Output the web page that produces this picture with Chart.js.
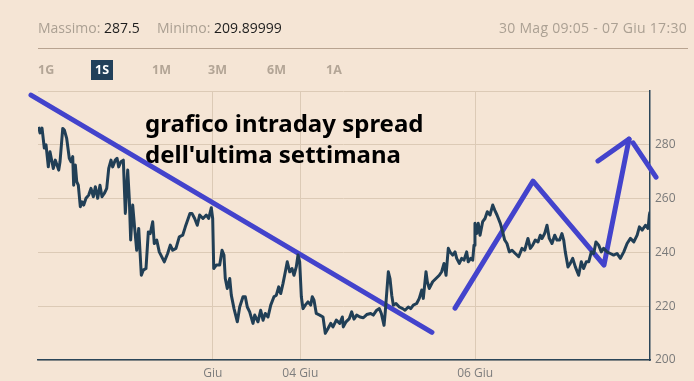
<!DOCTYPE html>
<html><head><meta charset="utf-8">
<script src="https://cdn.jsdelivr.net/npm/chart.js@4"></script>
<style>
html,body{margin:0;padding:0;background:#f5e5d5;width:694px;height:381px;overflow:hidden;font-family:"Open Sans",sans-serif;}
#wrap{position:relative;width:694px;height:381px;}
canvas{position:absolute;left:0;top:0;}
.t{position:absolute;white-space:nowrap;}
.hdr{top:18px;font-size:14px;color:#aba093;}
.hdr b{font-weight:normal;color:#1d1d1d;}
#sep{position:absolute;left:38px;top:48px;width:650px;height:1px;background:#b8a390;}
.btn{position:absolute;top:61px;font-size:12.5px;font-weight:700;color:#b3a596;line-height:18px;}
.btn.on{background:#21405a;color:#fff;padding:1px 4px;top:60px;}
#note{position:absolute;left:145px;top:107px;font-family:"Noto Sans",sans-serif;font-weight:700;font-size:24px;line-height:31px;color:#000;}
</style></head>
<body><div id="wrap">
<canvas id="c" width="694" height="381"></canvas>
<div class="t hdr" style="left:38px">Massimo: <b>287.5</b></div>
<div class="t hdr" style="left:157px">Minimo: <b>209.89999</b></div>
<div class="t hdr" style="right:7px;letter-spacing:0.3px">30 Mag 09:05 - 07 Giu 17:30</div>
<div id="sep"></div>
<div class="btn" style="left:38px">1G</div>
<div class="btn on" style="left:91px">1S</div>
<div class="btn" style="left:152px">1M</div>
<div class="btn" style="left:208px">3M</div>
<div class="btn" style="left:267px">6M</div>
<div class="btn" style="left:326px">1A</div>
<div id="note">grafico intraday spread<br>dell'ultima settimana</div>
</div>
<script>
// time in trading days since 30 Mag 09:05
const tradingDays = [0.008,0.023,0.046,0.072,0.092,0.118,0.137,0.160,0.175,0.198,0.217,0.237,0.252,0.283,0.301,0.328,0.358,0.378,0.397,0.408,0.427,0.443,0.461,0.484,0.503,0.523,0.549,0.580,0.606,0.633,0.656,0.683,0.709,0.732,0.758,0.786,0.809,0.835,0.854,0.884,0.904,0.923,0.949,0.976,0.999,1.026,1.044,1.060,1.083,1.106,1.129,1.152,1.182,1.204,1.235,1.262,1.284,1.312,1.330,1.358,1.387,1.445,1.483,1.513,1.541,1.578,1.616,1.655,1.685,1.712,1.738,
1.761,1.792,1.822,1.849,1.887,1.925,1.952,1.982,1.998,2.010,2.039,2.078,2.105,2.127,2.142,2.165,2.193,2.211,2.242,2.280,2.307,2.345,2.371,2.394,2.421,2.459,2.479,2.516,2.547,2.574,2.600,2.631,2.662,2.699,2.726,2.753,2.776,2.802,2.829,2.851,2.879,2.905,2.928,2.954,2.974,2.993,3.012,3.031,3.057,3.088,3.119,3.137,3.157,3.183,3.222,3.260,3.286,3.317,3.348,3.374,3.412,3.451,3.481,
3.492,3.523,3.561,3.588,3.614,3.645,3.683,3.721,3.760,3.805,3.835,3.874,3.904,3.927,3.958,3.972,4.007,4.026,4.046,4.064,4.095,4.133,4.171,4.198,4.235,4.263,4.293,4.331,4.361,4.389,4.407,4.438,4.453,4.476,4.514,4.552,4.590,4.617,4.644,4.667,4.693,4.712,4.743,4.770,4.789,4.819,4.846,4.872,4.903,4.921,4.949,4.972,4.987,4.998,5.018,5.036,5.056,5.086,5.113,5.139,5.170,5.201,
5.224,5.250,5.288,5.315,5.338,5.364,5.391,5.422,5.459,5.498,5.536,5.567,5.604,5.631,5.658,5.688,5.719,5.745,5.765,5.795,5.822,5.848,5.879,5.910,5.936,5.967,5.993,6.013,6.031,6.062,6.088,6.116,6.146,6.184,6.214,6.241,6.271,6.299,6.329,6.356,6.382,6.413,6.443,6.469,6.508,6.546,6.584,6.622,6.661,6.700,6.738,6.776,6.815,6.853,6.879,6.910,6.948,6.978,6.993,7.000];
const spread = [286.7,284.4,286.2,278.8,280,271.8,277.4,273.7,271.2,274.3,272.5,270.6,273.7,286.1,285.5,282.4,275,273.7,275.6,265,272.5,266.3,265,257,258.8,257.6,260.1,261.3,263.8,260.7,264.4,260.1,265,260.7,261.9,263.8,271.2,274.3,271.8,274.3,275,271.8,273.7,274.3,254.5,270.6,260.1,244.6,257.6,248.9,240.8,248.9,231.5,233.4,234,247.6,247,251.4,243.3,244.6,240.2,236.5,239.6,242.7,240.8,241.5,245.8,246.4,249.5,252,254.5,
254.5,252.6,250.1,253.9,252.6,253.9,252.6,256.6,252.6,234,235.3,235.3,240.8,239,230.3,226.6,230.3,224.1,219.1,214.2,219.7,223.5,223.5,219.7,217.9,213.6,216.7,214.2,218.5,214.8,217.3,216,220.4,223.5,224.1,227.2,224.7,228.4,232.8,236.5,232.8,234,231.5,234.6,239,236.5,223.5,219.1,220.4,221.6,220.4,223.5,222.2,217.3,216.7,216,209.9,211.7,213.6,212.3,214.8,213.6,216,
212.3,214.2,215.4,217.9,215.2,216.7,216,215.7,216.9,217.3,216.7,218.5,219.1,217.3,212.9,217.9,232.8,230.3,224.1,220.4,221,219.7,219.1,218.5,219.7,219.1,220.4,221,222.9,226,222.9,232.8,229.1,226.6,229.1,230.3,231.5,232.8,235.9,231.5,241.5,240.2,239,240.2,237.8,235.9,237.8,237.1,240.2,236.5,237.8,237.1,242.7,250.8,247,250.8,246.4,251.4,252.6,255.1,253.9,257.6,
255.7,253.9,250.8,247.6,244.6,243.3,240.2,240.8,239.6,238.4,241.5,240.8,245.2,241.5,242.7,244.6,243.9,246.4,245.2,247,250.1,245.2,243.3,246.4,244.6,244.6,247,244.6,240.2,234.6,235.9,237.8,234.6,231.5,236.5,234,236.5,236.5,240.2,239.6,243.9,242.7,240.2,241.5,240.2,239.6,239,239.6,237.8,240.2,243.3,245.2,243.9,246.4,249.5,248.3,250.1,248.9,253.9,255.1];

const xTickPos = [2, 3, 5];
const xTickLabels = ['Giu', '04 Giu', '06 Giu'];
const yTickValues = [200, 220, 240, 260, 280, 300];

// hand-drawn annotation strokes (trading days, spread value)
const trendX = [-0.08, 4.506];
const trendY = [298.5, 210.3];
const zigX = [4.770, 5.662, 6.474, 6.760];
const zigY = [219.3, 266.5, 235.3, 282.1];
const headLX = [6.405, 6.760];
const headLY = [274.0, 282.1];
const headRX = [6.806, 7.069];
const headRY = [280.7, 268.0];

const pts = (xs, ys) => xs.map((x, i) => ({x, y: ys[i]}));
const blue = '#4343cc';
const stroke = (xs, ys) => ({data: pts(xs, ys), borderColor: blue, borderWidth: 5, pointRadius: 0, tension: 0, clip: false, borderCapStyle: 'round', borderJoinStyle: 'round'});

new Chart(document.getElementById('c'), {
  type: 'line',
  data: {datasets: [
    {data: pts(tradingDays, spread), borderColor: '#213f56', borderWidth: 3, pointRadius: 0, tension: 0, borderJoinStyle: 'round'},
    stroke(trendX, trendY), stroke(zigX, zigY), stroke(headLX, headLY), stroke(headRX, headRY)
  ]},
  options: {
    responsive: false, animation: false, events: [],
    layout: {padding: {top: 91, left: 38, right: 0, bottom: 0}},
    plugins: {legend: {display: false}, tooltip: {enabled: false}},
    scales: {
      x: {type: 'linear', min: 0, max: 7,
        afterBuildTicks: s => { s.ticks = xTickPos.map(v => ({value: v})); },
        afterFit: s => { s.height = 21; },
        ticks: {autoSkip: false, maxRotation: 0, padding: 6, color: '#7d7d7d', font: {family: 'Open Sans', size: 12},
          callback: (v) => xTickLabels[xTickPos.indexOf(v)]},
        grid: {color: '#dccab6', drawTicks: false},
        border: {display: true, color: '#2a4559', width: 1.5}
      },
      y: {position: 'right', min: 200, max: 300,
        afterBuildTicks: s => { s.ticks = yTickValues.map(v => ({value: v})); },
        afterFit: s => { s.width = 44; },
        ticks: {padding: 5, color: '#7a7a7a', font: {family: 'Open Sans', size: 12},
          callback: v => v === 300 ? '' : v},
        grid: {color: '#dccab6', drawTicks: false},
        border: {display: true, color: '#2a4559', width: 1.5}
      }
    }
  }
});
</script></body></html>
